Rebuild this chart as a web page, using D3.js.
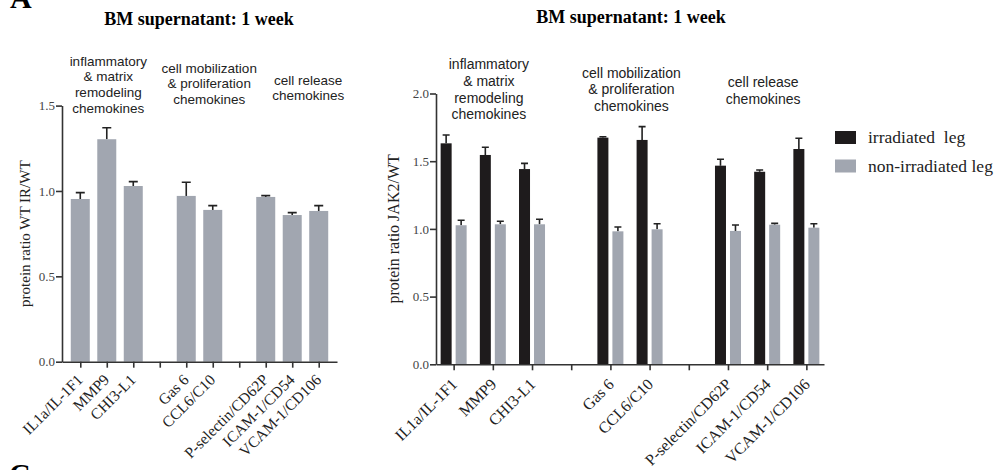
<!DOCTYPE html>
<html>
<head>
<meta charset="utf-8">
<script src="https://cdn.jsdelivr.net/npm/d3@7"></script>
<style>
  body { margin: 0; background: #fff; }
  svg { display: block; }
  .serif { font-family: "Liberation Serif", "Times New Roman", serif; }
  .sans { font-family: "Liberation Sans", Arial, sans-serif; }
</style>
</head>
<body>
<div class="chart"></div>
<script>
// slots on the x axis (gaps are blank slots between groups)
const slots = ["IL1a/IL-1F1", "MMP9", "CHI3-L1", "gap1", "Gas 6", "CCL6/C10", "gap2",
  "P-selectin/CD62P", "ICAM-1/CD54", "VCAM-1/CD106"];
const proteins = ["IL1a/IL-1F1", "MMP9", "CHI3-L1", "Gas 6", "CCL6/C10",
  "P-selectin/CD62P", "ICAM-1/CD54", "VCAM-1/CD106"];

// panel 1: WT IR / WT
const wtRatio = [0.953, 1.303, 1.029, 0.971, 0.889, 0.965, 0.859, 0.883];
const wtErr = [0.037, 0.067, 0.026, 0.080, 0.025, 0.008, 0.014, 0.031];

// panel 2: JAK2 / WT
const irradiated = [1.632, 1.546, 1.442, 1.674, 1.657, 1.467, 1.422, 1.590];
const irradiatedErr = [0.062, 0.057, 0.042, 0.007, 0.098, 0.047, 0.013, 0.079];
const nonIrradiated = [1.027, 1.034, 1.034, 0.982, 0.997, 0.985, 1.031, 1.009];
const nonIrradiatedErr = [0.037, 0.022, 0.037, 0.032, 0.041, 0.044, 0.010, 0.029];

const leftTicks = [0, 0.5, 1.0, 1.5];
const rightTicks = [0, 0.5, 1.0, 1.5, 2.0];
const seriesNames = ["irradiated  leg", "non-irradiated leg"];

const groups = [
  {lines: ["inflammatory", "& matrix", "remodeling", "chemokines"], anchor: "MMP9"},
  {lines: ["cell mobilization", "& proliferation", "chemokines"], anchor: "Gas 6"},
  {lines: ["cell release", "chemokines"], anchor: "ICAM-1/CD54"}
];

const black = "#1e1b1c";
const gray = "#a1a6b0";
const axisColor = "#333";

const svg = d3.select("div.chart").append("svg")
  .attr("width", 996)
  .attr("height", 470);

svg.append("rect").attr("width", 996).attr("height", 470).attr("fill", "#fff");

// panel letters (cut by the frame, as in the figure)
svg.append("text").attr("class", "serif")
  .attr("x", 10).attr("y", 8)
  .attr("font-size", 30).attr("font-weight", "bold")
  .text("A");
svg.append("text").attr("class", "serif")
  .attr("x", 9).attr("y", 484)
  .attr("font-size", 30).attr("font-weight", "bold")
  .text("C");

function drawAxes(x, y, ticks, labelSize, labelShift) {
  const [x0, x1] = x.range();
  const base = y(0);

  const xAxis = svg.append("g")
    .attr("transform", `translate(0,${base})`)
    .call(d3.axisBottom(x).tickSize(6).tickSizeOuter(0).tickFormat(d => d.startsWith("gap") ? "" : d));
  xAxis.select(".domain").attr("stroke", axisColor).attr("stroke-width", 1.6);
  xAxis.selectAll(".tick line").attr("stroke", axisColor).attr("stroke-width", 1.6);
  xAxis.selectAll(".tick text")
    .attr("class", "serif")
    .attr("font-size", labelSize)
    .attr("fill", "#222")
    .attr("text-anchor", "end")
    .attr("x", 0).attr("y", 0)
    .attr("dy", null)
    .attr("transform", `translate(${labelShift[0]},${labelShift[1]}) rotate(-45)`);

  const yAxis = svg.append("g")
    .attr("transform", `translate(${x0},0)`)
    .call(d3.axisLeft(y).tickValues(ticks).tickSize(6).tickSizeOuter(0).tickFormat(d3.format(".1f")));
  yAxis.select(".domain").attr("stroke", axisColor).attr("stroke-width", 1.6);
  yAxis.selectAll(".tick line").attr("stroke", axisColor).attr("stroke-width", 1.6);
  yAxis.selectAll(".tick text")
    .attr("class", "serif")
    .attr("font-size", 13)
    .attr("fill", "#444")
    .attr("x", -7);
}

function drawGroupLabels(x, specs, size, lineH) {
  groups.forEach((g, i) => {
    const s = specs[i];
    const t = svg.append("text").attr("class", "sans")
      .attr("font-size", size)
      .attr("fill", "#222")
      .attr("text-anchor", "middle");
    g.lines.forEach((line, j) => {
      t.append("tspan")
        .attr("x", x(g.anchor) + s.dx)
        .attr("y", s.y + j * lineH)
        .text(line);
    });
  });
}

function errorBars(data, x, y, w, color) {
  svg.append("g").selectAll("path")
    .data(data)
    .join("path")
    .attr("d", d => {
      const cx = x(d), top = y(d.v + d.e), bot = y(d.v);
      return `M${cx},${bot}V${top}M${cx - w / 2},${top}H${cx + w / 2}`;
    })
    .attr("fill", "none")
    .attr("stroke", color)
    .attr("stroke-width", 1.6);
}

// ---------- panel 1 ----------
{
  const x = d3.scalePoint().domain(slots).range([62, 337]).padding(0.69);
  const y = d3.scaleLinear().domain([0, 1.5]).range([361.7, 105.6]);
  const barW = 19;
  const rows = proteins.map((p, i) => ({p, v: wtRatio[i], e: wtErr[i]}));

  svg.append("text").attr("class", "serif")
    .attr("x", 199).attr("y", 25)
    .attr("text-anchor", "middle")
    .attr("font-size", 18).attr("font-weight", "bold")
    .text("BM supernatant: 1 week");

  errorBars(rows, d => x(d.p), y, 9, "#222");

  svg.append("g").selectAll("rect")
    .data(rows)
    .join("rect")
    .attr("x", d => x(d.p) - barW / 2)
    .attr("y", d => y(d.v))
    .attr("width", barW)
    .attr("height", d => y(0) - y(d.v))
    .attr("fill", gray);

  drawAxes(x, y, leftTicks, 15.5, [3, 19]);

  svg.append("text").attr("class", "serif")
    .attr("transform", `translate(30,${(y(0) + y(1.5)) / 2}) rotate(-90)`)
    .attr("text-anchor", "middle")
    .attr("font-size", 15)
    .attr("fill", "#222")
    .text("protein ratio WT IR/WT");

  drawGroupLabels(x, [
    {dx: 1.5, y: 65.5},
    {dx: 23, y: 72.5},
    {dx: 16, y: 84.5}
  ], 13.5, 15.7);
}

// ---------- panel 2 ----------
{
  const x = d3.scalePoint().domain(slots).range([436, 824]).padding(0.45);
  const y = d3.scaleLinear().domain([0, 2]).range([364.3, 93.5]);
  const barW = 11;
  const off = 7.5;
  const irr = proteins.map((p, i) => ({p, v: irradiated[i], e: irradiatedErr[i]}));
  const non = proteins.map((p, i) => ({p, v: nonIrradiated[i], e: nonIrradiatedErr[i]}));

  svg.append("text").attr("class", "serif")
    .attr("x", 631).attr("y", 23)
    .attr("text-anchor", "middle")
    .attr("font-size", 18).attr("font-weight", "bold")
    .text("BM supernatant: 1 week");

  errorBars(irr, d => x(d.p) - off, y, 7, "#222");
  errorBars(non, d => x(d.p) + off, y, 7, "#222");

  svg.append("g").selectAll("rect")
    .data(irr)
    .join("rect")
    .attr("x", d => x(d.p) - off - barW / 2)
    .attr("y", d => y(d.v))
    .attr("width", barW)
    .attr("height", d => y(0) - y(d.v))
    .attr("fill", black);

  svg.append("g").selectAll("rect")
    .data(non)
    .join("rect")
    .attr("x", d => x(d.p) + off - barW / 2)
    .attr("y", d => y(d.v))
    .attr("width", barW)
    .attr("height", d => y(0) - y(d.v))
    .attr("fill", gray);

  drawAxes(x, y, rightTicks, 16, [4, 21]);

  svg.append("text").attr("class", "serif")
    .attr("transform", `translate(399,${(y(0) + y(2)) / 2}) rotate(-90)`)
    .attr("text-anchor", "middle")
    .attr("font-size", 16)
    .attr("fill", "#222")
    .text("protein ratio JAK2/WT");

  drawGroupLabels(x, [
    {dx: -4, y: 69},
    {dx: 21, y: 77.5},
    {dx: -4, y: 87}
  ], 14, 16.8);

  // legend
  const legend = svg.append("g").attr("transform", "translate(835,131)");
  const colors = [black, gray];
  seriesNames.forEach((name, i) => {
    legend.append("rect")
      .attr("x", 0).attr("y", i * 28.5)
      .attr("width", 21).attr("height", 13)
      .attr("fill", colors[i]);
    legend.append("text").attr("class", "serif")
      .attr("x", 33).attr("y", i * 28.5 + 12)
      .attr("font-size", 17.5)
      .attr("fill", "#222")
      .style("white-space", "pre")
      .text(name);
  });
}
</script>
</body>
</html>
